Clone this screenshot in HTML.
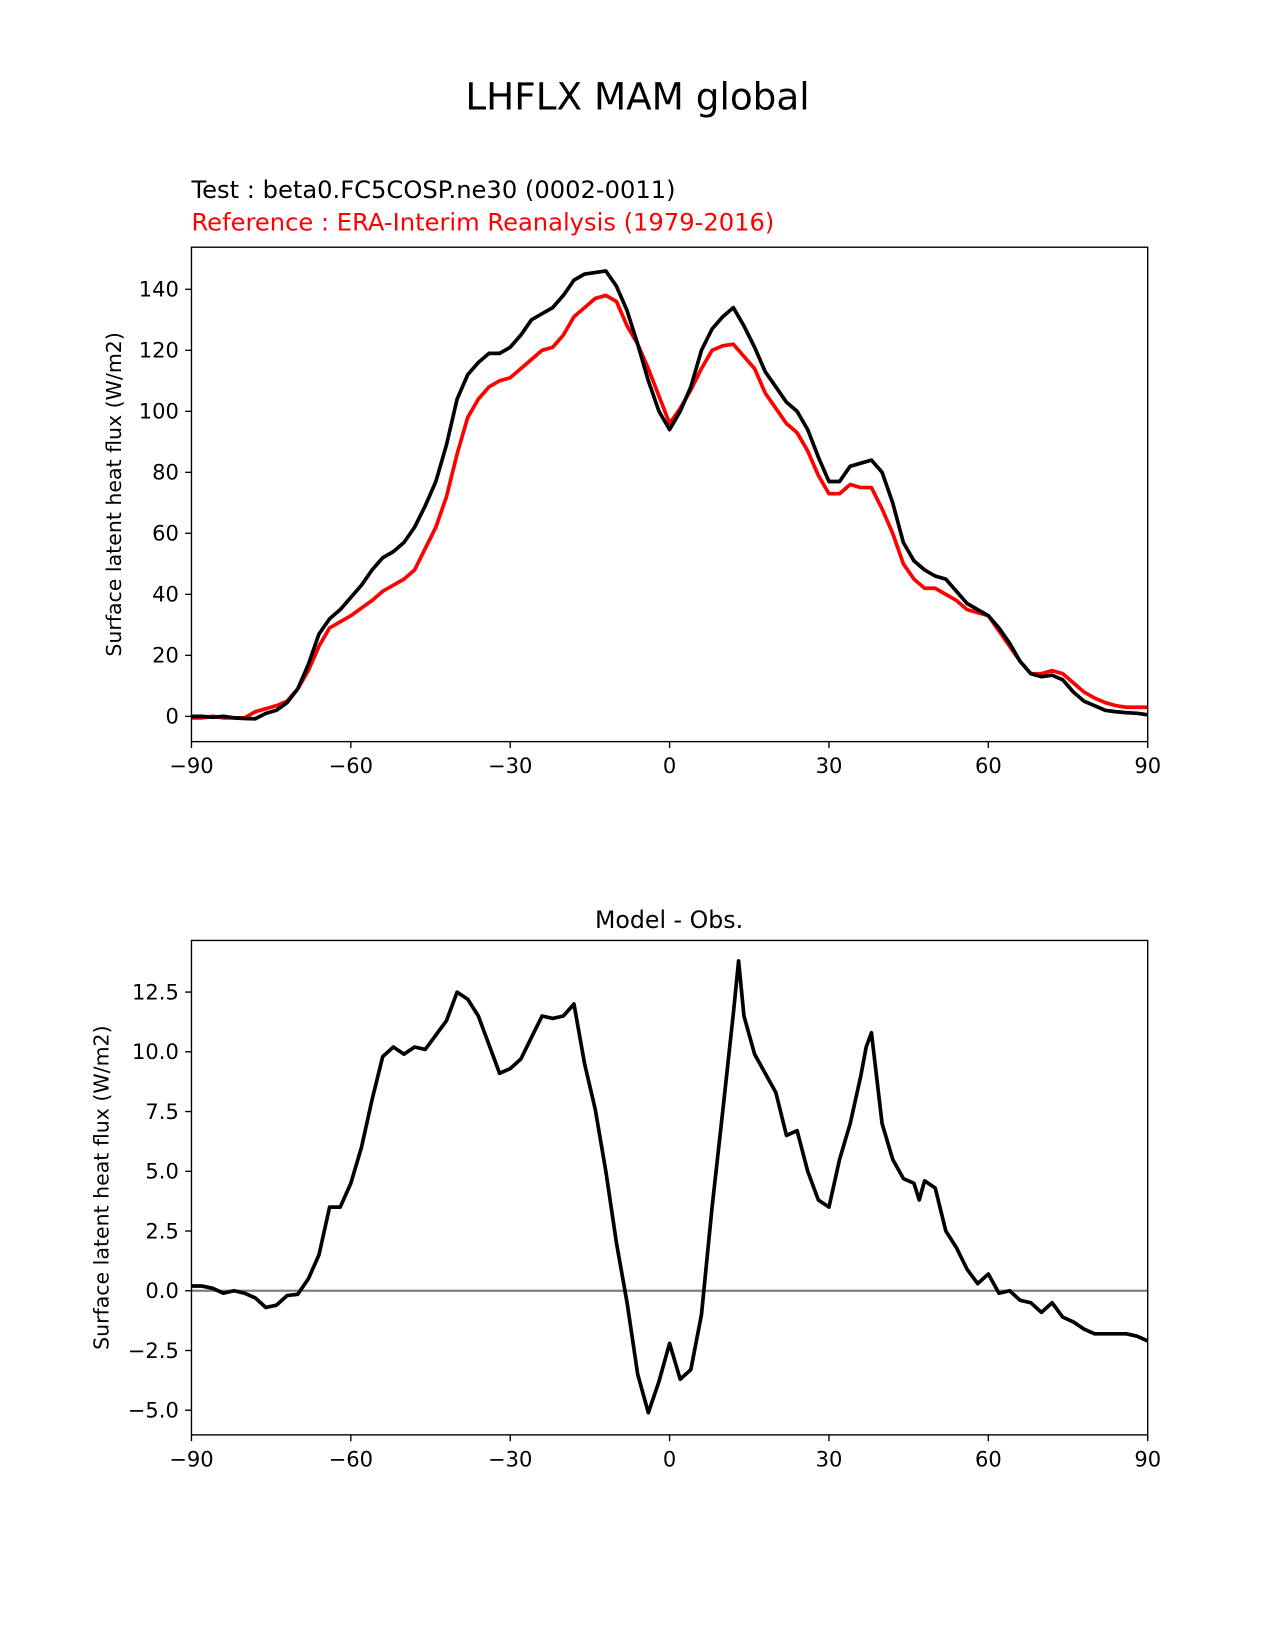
<!DOCTYPE html>
<html><head><meta charset="utf-8"><style>
body{margin:0;background:#fff;}
svg{display:block;font-family:"DejaVu Sans","Liberation Sans",sans-serif;}
</style></head><body>
<svg id="fig" width="1275" height="1650" viewBox="0 0 1212 1568.5">
<text x="606" y="104" font-size="35.5" text-anchor="middle">LHFLX MAM global</text>
<text x="182" y="188" font-size="23">Test : beta0.FC5COSP.ne30 (0002-0011)</text>
<text x="182" y="219" font-size="23" fill="#ff0000">Reference : ERA-Interim Reanalysis (1979-2016)</text>
<text x="636" y="882" font-size="22.5" text-anchor="middle">Model - Obs.</text>
</svg>
<script>
const lats=[-90,-88,-86,-84,-82,-80,-78,-76,-74,-72,-70,-68,-66,-64,-62,-60,-58,-56,-54,-52,-50,-48,-46,-44,-42,-40,-38,-36,-34,-32,-30,-28,-26,-24,-22,-20,-18,-16,-14,-12,-10,-8,-6,-4,-2,0,2,4,6,8,10,12,14,16,18,20,22,24,26,28,30,32,34,36,38,40,42,44,46,48,50,52,54,56,58,60,62,64,66,68,70,72,74,76,78,80,82,84,86,88,90];
const testVals=[0,0,-0.3,0,-0.5,-0.7,-0.8,1,2,4.5,9,17,27,32,35,39,43,48,52,54,57,62,69,77,89,104,112,116,119,119,121,125,130,132,134,138,143,145,145.5,146,141,133,122,110,100,94,100,108,120,127,131,134,128,121,113,108,103,100,94,85,77,77,82,83,84,80,70,57,51,48,46,45,41,37,35,33,29,24,18,14,13,13.5,12,8,5,3.5,2,1.5,1.2,1,0.5];
const refVals=[-0.5,-0.5,0,-0.5,-0.5,-0.5,1.5,2.5,3.5,5,9,15,23,29,31,33,35.5,38,41,43,45,48,55,62,72,86,98,104,108,110,111,114,117,120,121,125,131,134,137,138,136,128,122,114,105,96,101,107,114,120,121.5,122,118,114,106,101,96,93,87,79,73,73,76,75,75,68,60,50,45,42,42,40,38,35,34,33,28,23,18,14,14,15,14,11,8,6,4.5,3.5,3,3,3];
const diffLats=[-90,-88,-86,-84,-82,-80,-78,-76,-74,-72,-70,-68,-66,-64,-62,-60,-58,-56,-54,-52,-50,-48,-46,-44,-42,-40,-38,-36,-34,-32,-30,-28,-26,-24,-22,-20,-18,-16,-14,-12,-10,-8,-6,-4,-2,0,2,4,6,8,10,12,13,14,16,18,20,22,24,26,28,30,32,34,36,37,38,40,42,44,46,47,48,50,52,54,56,58,60,62,64,66,68,70,72,74,76,78,80,82,84,86,88,90];
const diffVals=[0.2,0.2,0.1,-0.1,0,-0.1,-0.3,-0.7,-0.6,-0.2,-0.15,0.5,1.5,3.5,3.5,4.5,6,8,9.8,10.2,9.9,10.2,10.1,10.7,11.3,12.5,12.2,11.5,10.3,9.1,9.3,9.7,10.6,11.5,11.4,11.5,12.0,9.5,7.6,5,2,-0.5,-3.5,-5.1,-3.8,-2.2,-3.7,-3.3,-1,3.5,7.5,11.6,13.8,11.5,9.9,9.1,8.3,6.5,6.7,5,3.8,3.5,5.5,7,9,10.2,10.8,7,5.5,4.7,4.5,3.8,4.6,4.3,2.5,1.8,0.9,0.3,0.7,-0.1,0,-0.4,-0.5,-0.9,-0.5,-1.1,-1.3,-1.6,-1.8,-1.8,-1.8,-1.8,-1.9,-2.1];
const xTicks=[-90,-60,-30,0,30,60,90];
const xTickLabels=["\u221290","\u221260","\u221230","0","30","60","90"];
const yTicks1=[0,20,40,60,80,100,120,140];
const yTickLabels1=["0","20","40","60","80","100","120","140"];
const yTicks2=[-5,-2.5,0,2.5,5,7.5,10,12.5];
const yTickLabels2=["\u22125.0","\u22122.5","0.0","2.5","5.0","7.5","10.0","12.5"];

const svg=document.getElementById('fig');
const NS='http://www.w3.org/2000/svg';
function mk(tag,attrs,parent){const e=document.createElementNS(NS,tag);for(const k in attrs)e.setAttribute(k,attrs[k]);(parent||svg).appendChild(e);return e;}
const L=182,R=1091;
const xs=v=>L+(v+90)/180*(R-L);

function panel(top,bot,ymin,ymax,yt,ytl,name,ylabel,ylabX){
  const ys=v=>bot-(v-ymin)/(ymax-ymin)*(bot-top);
  const g=mk('g',{});
  
  
  xTicks.forEach((t,i)=>{
    const x=xs(t);
    const tk=mk('line',{x1:x,x2:x,y1:bot,y2:bot+6,stroke:'#000','stroke-width':1.3},g);
    
    
    const tx=mk('text',{x:x,y:bot+30,'font-size':20,'text-anchor':'middle'},g);
    tx.textContent=xTickLabels[i];
    
    
  });
  yt.forEach((t,i)=>{
    const y=ys(t);
    const tk=mk('line',{x1:L-6,x2:L,y1:y,y2:y,stroke:'#000','stroke-width':1.3},g);
    
    
    const tx=mk('text',{x:L-12,y:y+7,'font-size':20,'text-anchor':'end'},g);
    tx.textContent=ytl[i];
    
    
  });
  const yl=mk('text',{x:0,y:0,'font-size':19.5,'text-anchor':'middle',transform:`translate(${ylabX},${(top+bot)/2}) rotate(-90)`},g);
  yl.textContent=ylabel;
  
  
  return {g,ys,top,bot};
}
function line(p,xa,ya,color,name){
  const d=xa.map((x,i)=>(i?'L':'M')+xs(x).toFixed(1)+','+p.ys(ya[i]).toFixed(1)).join(' ');
  const e=mk('path',{d:d,fill:'none',stroke:color,'stroke-width':3.5,'stroke-linejoin':'round'},p.g);
  
  
}
function frame(p){
  const f=mk('rect',{x:L,y:p.top,width:R-L,height:p.bot-p.top,fill:'none',stroke:'#000','stroke-width':1.3},p.g);
  
  
}
const p1=panel(235,705,-8.28,153.8,yTicks1,yTickLabels1,'top-panel','Surface latent heat flux (W/m2)',115);
line(p1,lats,refVals,'#ff0000','reference-line');
line(p1,lats,testVals,'#000','test-line');
frame(p1);
const p2=panel(894,1364,-6.03,14.66,yTicks2,yTickLabels2,'diff-panel','Surface latent heat flux (W/m2)',103);
const z=mk('line',{x1:L,x2:R,y1:p2.ys(0),y2:p2.ys(0),stroke:'#808080','stroke-width':2.2},p2.g);


line(p2,diffLats,diffVals,'#000','difference-line');
frame(p2);
</script>
</body></html>
